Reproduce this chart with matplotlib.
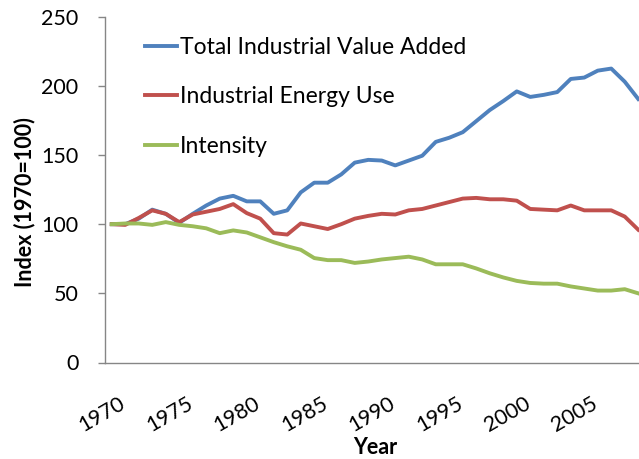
import numpy as np
import matplotlib
matplotlib.use("Agg")
import matplotlib.pyplot as plt
import matplotlib.transforms as mtransforms

plt.rcParams['font.family'] = ['Lato', 'DejaVu Sans']

# data (index, 1970 = 100)
years = list(range(1970, 2010))
value_added = [100, 100, 104, 110.5, 107.5, 101, 107.5, 113.5, 118.5, 120.5,
               116.5, 116.5, 107.5, 110, 123, 130, 130, 136, 144.5, 146.5,
               146, 142.5, 146, 149.5, 159.5, 162.5, 166.5, 174.5, 182.5, 189,
               196, 192, 193.5, 195.5, 205, 206, 211, 212.5, 203, 190.5]
energy_use = [100, 99.5, 104.5, 110, 107.5, 101.5, 107, 109, 111, 114.5,
              108, 104, 93.5, 92.5, 100.5, 98.5, 96.5, 100, 104, 106,
              107.5, 107, 110, 111, 113.5, 116, 118.5, 119, 118, 118,
              117, 111, 110.5, 110, 113.5, 110, 110, 110, 105.5, 96]
intensity = [100, 100.5, 100.5, 99.5, 101.5, 99.5, 98.5, 97, 93.5, 95.5,
             94, 90.5, 87, 84, 81.5, 75.5, 74, 74, 72, 73,
             74.5, 75.5, 76.5, 74.5, 71, 71, 71, 68, 64.5, 61.5,
             59, 57.5, 57, 57, 55, 53.5, 52, 52, 53, 50]
labels = ["Total Industrial Value Added", "Industrial Energy Use", "Intensity"]
colors = ["#4F81BD", "#C0504D", "#9BBB59"]
xticks = list(range(1970, 2010, 5))
yticks = [0, 50, 100, 150, 200, 250]

W, H = 639, 459
fig = plt.figure(figsize=(W / 100, H / 100), dpi=100)
# axes runs a little past the right edge, like the cropped original
ax = fig.add_axes([105 / W, 1 - 362.5 / H, 540 / W, 345.8 / H])

for series, lab, c in zip([value_added, energy_use, intensity], labels, colors):
    ax.plot(years, series, color=c, lw=2.8, label=lab, solid_joinstyle='round')

ax.set_xlim(1969.5, 2009.5)
ax.set_ylim(0, 250)
ax.set_yticks(yticks)
ax.set_xticks(xticks)
ax.set_xticklabels([str(x) for x in xticks], rotation=30, ha='right',
                   rotation_mode='anchor', fontsize=15.5)
ax.tick_params(axis='x', length=0, pad=22)
ax.tick_params(axis='y', length=5, width=1, color='#868686', pad=14, labelsize=15.5)

# nudge the year labels right a bit
shift = mtransforms.ScaledTranslation(7 / 100, 0, fig.dpi_scale_trans)
for t in ax.get_xticklabels():
    t.set_transform(t.get_transform() + shift)

for s in ['top', 'right']:
    ax.spines[s].set_visible(False)
for s in ['left', 'bottom']:
    ax.spines[s].set_color('#868686')
    ax.spines[s].set_linewidth(1)

fig.text(25 / W, 1 - 202 / H, "Index (1970=100)", rotation=90, ha='center',
         va='center', fontsize=15.5, fontweight='bold')
fig.text(375 / W, 1 - 447 / H, "Year", ha='center', va='center',
         fontsize=15.5, fontweight='bold')

ax.legend(loc='upper left', bbox_to_anchor=(145 / W, 1 - 37 / H),
          bbox_transform=fig.transFigure, frameon=False, fontsize=16.5,
          handlelength=1.4, handletextpad=0.12, labelspacing=1.24,
          borderpad=0, borderaxespad=0)

fig.savefig("out.png", dpi=100)
